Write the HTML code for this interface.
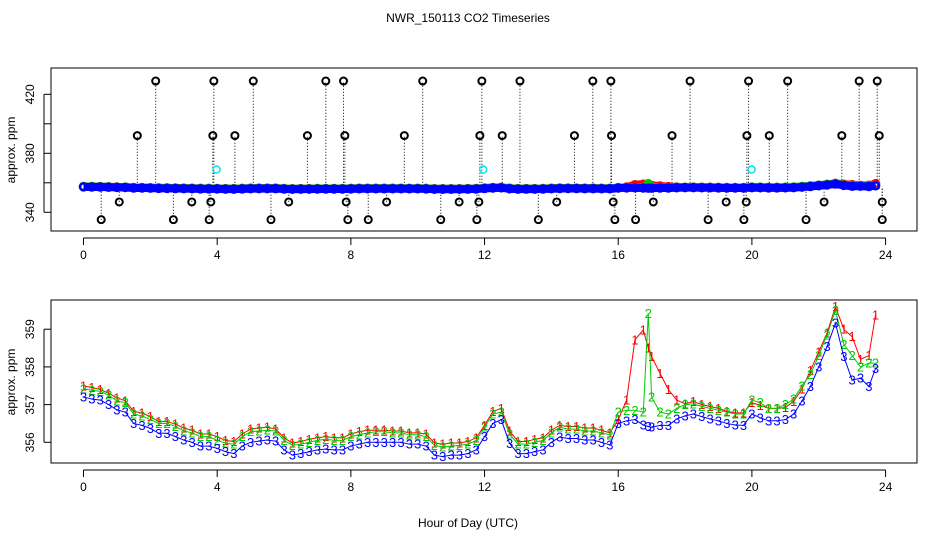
<!DOCTYPE html>
<html><head><meta charset="utf-8"><style>
body{margin:0;background:#fff;}
svg{display:block;font-family:"Liberation Sans",sans-serif;}
</style></head><body>
<svg id="chart" width="936" height="540" xmlns="http://www.w3.org/2000/svg">
<rect width="936" height="540" fill="#fff"/>
<text x="468" y="22" font-size="12" text-anchor="middle">NWR_150113  CO2 Timeseries</text>
<text x="468" y="527" font-size="12" text-anchor="middle">Hour of Day (UTC)</text>
<text transform="translate(15,150) rotate(-90)" font-size="12" text-anchor="middle">approx. ppm</text>
<text transform="translate(15,382) rotate(-90)" font-size="12" text-anchor="middle">approx. ppm</text>
<rect x="51" y="68" width="866" height="163" fill="none" stroke="#000"/>
<rect x="51" y="300" width="866" height="163" fill="none" stroke="#000"/>
<g id="gtop"></g><g id="gbot"></g>
</svg>
<script>
const hours = [0,0.25,0.5,0.75,1,1.25,1.5,1.75,2,2.25,2.5,2.75,3,3.25,3.5,3.75,4,4.25,4.5,4.75,5,5.25,5.5,5.75,6,6.25,6.5,6.75,7,7.25,7.5,7.75,8,8.25,8.5,8.75,9,9.25,9.5,9.75,10,10.25,10.5,10.75,11,11.25,11.5,11.75,12,12.25,12.5,12.75,13,13.25,13.5,13.75,14,14.25,14.5,14.75,15,15.25,15.5,15.75,16,16.25,16.5,16.75,16.9,17,17.25,17.5,17.75,18,18.25,18.5,18.75,19,19.25,19.5,19.75,20,20.25,20.5,20.75,21,21.25,21.5,21.75,22,22.25,22.5,22.75,23,23.25,23.5,23.7];
const series3 = [357.2,357.15,357.12,357.0,356.86,356.8,356.5,356.45,356.37,356.24,356.24,356.15,356.06,356.0,355.9,355.9,355.84,355.75,355.7,355.9,356.0,356.03,356.06,356.03,355.8,355.66,355.7,355.75,355.8,355.82,355.8,355.8,355.9,355.95,356.0,356.0,356.0,356.0,356.0,355.95,355.95,355.9,355.66,355.62,355.66,355.66,355.7,355.8,356.15,356.5,356.6,355.97,355.7,355.7,355.75,355.8,356.0,356.14,356.1,356.1,356.06,356.06,356.0,355.93,356.5,356.57,356.6,356.46,356.42,356.4,356.45,356.45,356.62,356.7,356.75,356.68,356.62,356.57,356.5,356.46,356.45,356.75,356.65,356.57,356.57,356.6,356.75,357.1,357.48,358.0,358.54,359.16,358.27,357.65,357.7,357.48,357.96];
const series2 = [357.42,357.38,357.35,357.25,357.1,357.05,356.75,356.7,356.6,356.5,356.5,356.42,356.3,356.25,356.15,356.15,356.05,355.98,355.95,356.15,356.28,356.3,356.32,356.3,356.05,355.92,355.95,356.0,356.05,356.08,356.05,356.05,356.15,356.2,356.25,356.28,356.28,356.25,356.25,356.2,356.2,356.15,355.92,355.88,355.9,355.92,355.95,356.05,356.4,356.75,356.8,356.22,355.95,355.95,356.0,356.05,356.25,356.4,356.35,356.35,356.3,356.3,356.25,356.2,356.8,356.85,356.85,356.8,359.42,357.2,356.8,356.75,356.9,357.0,357.02,356.95,356.9,356.85,356.8,356.75,356.75,357.12,357.05,356.9,356.9,357.0,357.15,357.5,357.8,358.3,358.85,359.5,358.6,358.3,358.0,358.1,358.1];
const series1 = [357.5,357.45,357.4,357.3,357.18,357.1,356.82,356.78,356.68,356.55,356.55,356.48,356.38,356.32,356.22,356.22,356.15,356.05,356.02,356.22,356.35,356.38,356.4,356.35,356.12,355.98,356.02,356.08,356.12,356.15,356.12,356.12,356.22,356.28,356.32,356.32,356.32,356.3,356.3,356.25,356.25,356.22,355.98,355.95,355.98,355.98,356.02,356.12,356.45,356.82,356.9,356.3,356.02,356.02,356.08,356.12,356.32,356.45,356.42,356.42,356.38,356.38,356.32,356.25,356.6,357.12,358.72,358.98,358.5,358.27,357.83,357.4,357.12,357.02,357.08,357.0,356.95,356.9,356.82,356.78,356.78,357.05,356.98,356.9,356.9,356.92,357.08,357.42,357.9,358.4,358.9,359.6,359.0,358.8,358.2,358.3,359.38];
const outlierHours = [0.53,2.69,3.76,5.61,7.91,8.52,10.69,11.77,13.61,15.9,16.52,18.69,19.76,21.62,23.9,1.07,3.24,3.81,6.14,7.86,9.07,11.24,11.83,14.16,15.85,17.05,19.23,19.83,22.16,23.9,1.61,3.87,4.53,6.7,7.82,9.6,11.86,12.53,14.69,15.8,17.61,19.85,20.52,22.69,23.81,2.16,3.9,5.08,7.25,7.78,10.15,11.92,13.06,15.24,15.78,18.15,19.9,21.07,23.21,23.75];
const outlierValues = [335,335,335,335,335,335,335,335,335,335,335,335,335,335,335,347,347,347,347,347,347,347,347,347,347,347,347,347,347,347,392,392,392,392,392,392,392,392,392,392,392,392,392,392,392,429,429,429,429,429,429,429,429,429,429,429,429,429,429,429];
const cyanHours = [3.98,11.96,19.99];
const cyanValues = [369,369,369];
const xTicks = [0,4,8,12,16,20,24];
const topYTicks = [340,360,380,400,420];
const topYLabels = ["340","","380","","420"];
const botYTicks = [356,357,358,359];

const NS="http://www.w3.org/2000/svg";
const xS = h => 83.5 + h*33.42;
const yTop = v => 182.8 - (v-360)*1.475;
const yBot = v => 442.3 - (v-356)*37.7;
function mk(tag, attrs, parent){const e=document.createElementNS(NS,tag);for(const k in attrs)e.setAttribute(k,attrs[k]);parent.appendChild(e);return e;}
const gTop=document.getElementById('gtop'), gBot=document.getElementById('gbot');

function xAxis(g, y0){
  mk('line',{x1:xS(0),x2:xS(24),y1:y0,y2:y0,stroke:'#000'},g);
  xTicks.forEach(t=>{
    const l=mk('line',{x1:xS(t),x2:xS(t),y1:y0,y2:y0+7,stroke:'#000'},g);
    
    
    const tx=mk('text',{x:xS(t),y:y0+21,'font-size':12,'text-anchor':'middle'},g);
    tx.textContent=t;
    
    
  });
}
xAxis(gTop,238); xAxis(gBot,470);
mk('line',{x1:44,x2:44,y1:yTop(340),y2:yTop(420),stroke:'#000'},gTop);
topYTicks.forEach((t,i)=>{
  mk('line',{x1:44,x2:51,y1:yTop(t),y2:yTop(t),stroke:'#000'},gTop);
  if(topYLabels[i]){const tx=mk('text',{transform:`translate(34,${yTop(t)}) rotate(-90)`,'font-size':12,'text-anchor':'middle'},gTop);tx.textContent=topYLabels[i];
  
  }
});
mk('line',{x1:44,x2:44,y1:yBot(356),y2:yBot(359),stroke:'#000'},gBot);
botYTicks.forEach(t=>{
  mk('line',{x1:44,x2:51,y1:yBot(t),y2:yBot(t),stroke:'#000'},gBot);
  const tx=mk('text',{transform:`translate(34,${yBot(t)}) rotate(-90)`,'font-size':12,'text-anchor':'middle'},gBot);tx.textContent=t;
  
  
});
outlierHours.forEach((h,i)=>{
  const v=outlierValues[i];
  mk('line',{x1:xS(h),x2:xS(h),y1:yTop(356),y2:yTop(v),stroke:'#000','stroke-width':1,'stroke-dasharray':'1,2'},gTop);
  const c=mk('circle',{cx:xS(h),cy:yTop(v),r:3.5,fill:'none',stroke:'#000','stroke-width':2},gTop);
  
  
});
cyanHours.forEach((h,i)=>{
  const c=mk('circle',{cx:xS(h),cy:yTop(cyanValues[i]),r:3.5,fill:'none',stroke:'#00e5ee','stroke-width':1.5},gTop);
  
  
});
const sets=[[series1,'#ff0000','1'],[series2,'#00cc00','2'],[series3,'#0000ff','3']];
sets.forEach(([arr,col,lab])=>{
  const band=mk('polyline',{points:arr.map((v,i)=>xS(hours[i])+','+yTop(v)).join(' '),fill:'none',stroke:col,'stroke-width':8,'stroke-linejoin':'round'},gTop);
  
  
  arr.forEach((v,i)=>{
    const c=mk('circle',{cx:xS(hours[i]),cy:yTop(v),r:3.5,fill:'none',stroke:col,'stroke-width':2.5},gTop);
    
    
  });
});
sets.forEach(([arr,col,lab])=>{
  const p=mk('polyline',{points:arr.map((v,i)=>xS(hours[i])+','+yBot(v)).join(' '),fill:'none',stroke:col,'stroke-width':1},gBot);
  
  
  arr.forEach((v,i)=>{
    const t=mk('text',{x:xS(hours[i]),y:yBot(v)+4.5,'font-size':13,fill:col,'text-anchor':'middle'},gBot);
    t.textContent=lab;
    
    
  });
});
</script>
</body></html>
